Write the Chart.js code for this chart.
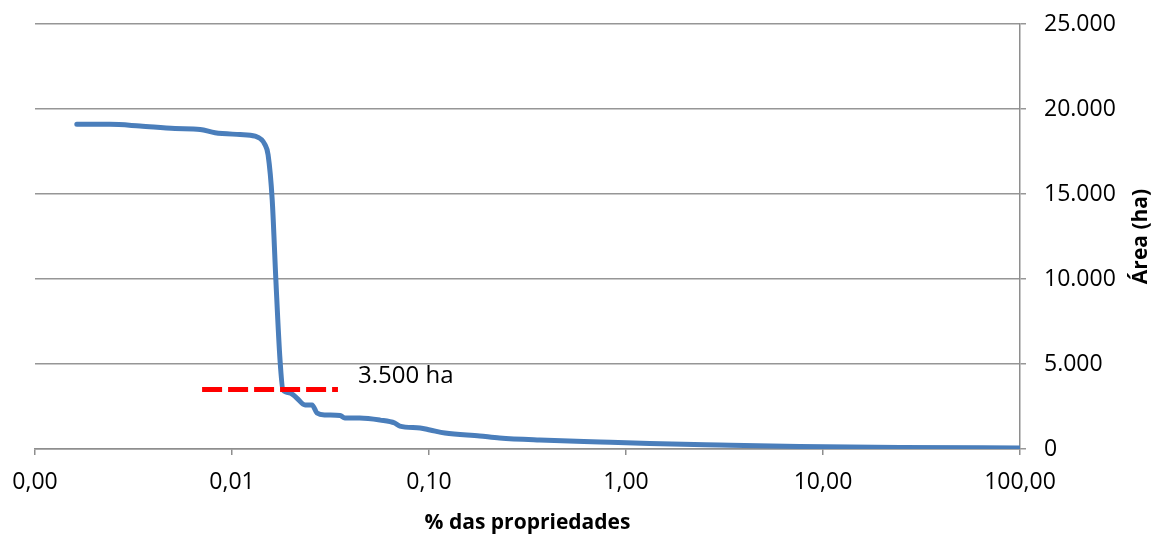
<!DOCTYPE html>
<html>
<head>
<meta charset="utf-8">
<script src="https://cdn.jsdelivr.net/npm/chart.js@4.4.1/dist/chart.umd.min.js"></script>
<style>
html,body{margin:0;padding:0;background:#fff;}
#wrap{width:1158px;height:536px;position:relative;}
</style>
</head>
<body>
<div id="wrap"><canvas id="c" width="1158" height="536"></canvas></div>
<script>
// % das propriedades (log scale)
const xValues = [0.00163,0.0024,0.00341,0.00514,0.00689,0.0082,0.011,0.0131,0.0147,0.01525,0.016,0.0167,0.01753,0.01815,0.0197,0.0213,0.0235,0.0255,0.027,0.0297,0.0354,0.0374,0.0445,0.0565,0.067,0.0711,0.0902,0.1012,0.1205,0.181,0.228,0.364,0.74,1.32,2.97,7.6,24.6,100];
// Área (ha)
const areaValues = [19100,19100,19000,18850,18800,18600,18500,18400,17900,17300,14650,9940,5235,3470,3300,3000,2590,2590,2120,2000,1970,1820,1820,1700,1530,1350,1235,1120,940,765,650,530,410,320,235,150,90,60];
// limite de 3.500 ha
const thresholdX = [0.00705,0.0345];
const thresholdY = [3500,3500];
const thresholdLabel = "3.500 ha";
const thresholdLabelPos = [0.0436, 4300];
const xTickValues = [0.001,0.01,0.1,1,10,100];
const xTickLabels = ["0,00","0,01","0,10","1,00","10,00","100,00"];
const yTickValues = [0,5000,10000,15000,20000,25000];
const yTickLabels = ["0","5.000","10.000","15.000","20.000","25.000"];
const xTitle = "% das propriedades";
const yTitle = "Área (ha)";

const FONT = "'Open Sans', 'Liberation Sans', sans-serif";

const mainData = xValues.map((x,i)=>({x:x,y:areaValues[i]}));
const threshData = thresholdX.map((x,i)=>({x:x,y:thresholdY[i]}));

function noPad(s){ s.paddingLeft=0; s.paddingRight=0; s.paddingTop=0; s.paddingBottom=0; }

const overlay = {
  id:'overlay',
  afterDraw(chart){
    const ctx = chart.ctx;
    const xs = chart.scales.x, ys = chart.scales.y;
    ctx.save();
    ctx.fillStyle = '#000';
    ctx.font = "24px " + FONT;
    ctx.textAlign = 'left';
    ctx.textBaseline = 'middle';
    ctx.fillText(thresholdLabel, xs.getPixelForValue(thresholdLabelPos[0]), ys.getPixelForValue(thresholdLabelPos[1]));
    // x title
    ctx.font = "bold 21px " + FONT;
    ctx.textAlign = 'center';
    ctx.fillText(xTitle, (chart.chartArea.left + chart.chartArea.right)/2, 523);
    // y title rotated (reads bottom to top)
    ctx.translate(1141, (chart.chartArea.top + chart.chartArea.bottom)/2);
    ctx.rotate(-Math.PI/2);
    ctx.fillText(yTitle, 0, 0);
    ctx.restore();
  }
};

new Chart(document.getElementById('c'), {
  type:'line',
  data:{
    datasets:[
      {
        data: mainData,
        borderColor:'#4A7EBB',
        borderWidth:5,
        pointRadius:0,
        cubicInterpolationMode:'monotone',
        borderCapStyle:'round',
        borderJoinStyle:'round',
        fill:false,
        order:2
      },
      {
        data: threshData,
        borderColor:'#FF0000',
        borderWidth:5,
        borderDash:[20,6],
        pointRadius:0,
        fill:false,
        order:1
      }
    ]
  },
  options:{
    responsive:false,
    animation:false,
    layout:{padding:{left:35,top:24,right:0,bottom:0}},
    plugins:{legend:{display:false},tooltip:{enabled:false}},
    scales:{
      x:{
        type:'logarithmic',
        min:0.001,max:100,
        afterBuildTicks(s){ s.ticks = xTickValues.map(v=>({value:v, major:true})); },
        afterFit(s){ s.height = 87; noPad(s); },
        ticks:{
          autoSkip:false, maxRotation:0, padding:14,
          color:'#000', font:{family:FONT,size:23},
          callback(v){ const i = xTickValues.indexOf(v); return i>=0 ? xTickLabels[i] : ''; }
        },
        grid:{drawOnChartArea:false, drawTicks:true, tickLength:6, color:'#8E8E8E', lineWidth:1.5},
        border:{display:true, color:'#8E8E8E', width:1.5}
      },
      y:{
        position:'right',
        min:0,max:25000,
        afterBuildTicks(s){ s.ticks = yTickValues.map(v=>({value:v})); },
        afterFit(s){ s.width = 138; noPad(s); },
        ticks:{
          padding:18,
          color:'#000', font:{family:FONT,size:23},
          callback(v){ const i = yTickValues.indexOf(v); return i>=0 ? yTickLabels[i] : ''; }
        },
        grid:{drawOnChartArea:true, drawTicks:true, tickLength:6, color:'#969696', lineWidth:1.5},
        border:{display:true, color:'#8E8E8E', width:1.5}
      }
    }
  },
  plugins:[overlay]
});
</script>
</body>
</html>
